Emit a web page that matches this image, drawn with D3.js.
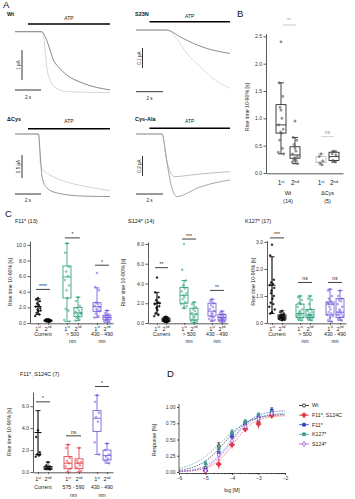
<!DOCTYPE html>
<html><head><meta charset="utf-8">
<script src="https://cdn.jsdelivr.net/npm/d3@7"></script>
<style>
body{margin:0;background:#fff;}
svg text{font-family:"Liberation Sans",Arial,Helvetica,sans-serif;}
</style></head>
<body>
<svg id="chart" width="355" height="499"></svg>
<script>
// ---------------- Panel A: current traces (time in s, current in µA) ----------------
const atpOnset = 1.0;
const wtDarkT  = [0, 2.0, 2.44, 2.69, 2.95, 3.33, 3.98, 5.25, 7.31];
const wtDarkI  = [0, 0, -0.28, -0.61, -0.94, -1.17, -1.44, -1.72, -1.94];
const wtLightT = [0, 2.13, 2.31, 2.44, 2.69, 3.08, 3.98, 7.31];
const wtLightI = [0, 0, -0.61, -1.17, -1.61, -1.85, -2.0, -2.03];
const s23DarkT  = [0, 2.27, 3.26, 4.25, 5.24, 6.96];
const s23DarkI  = [0, 0, -0.034, -0.067, -0.092, -0.117];
const s23LightT = [0, 2.27, 3.01, 3.76, 4.74, 5.7, 6.96];
const s23LightI = [0, 0, -0.042, -0.117, -0.183, -0.242, -0.292];
const dcDarkT  = [0, 1.81, 1.92, 2.08, 2.44, 3.21, 5.23, 7.31];
const dcDarkI  = [0, 0, -0.35, -0.93, -1.17, -1.28, -1.35, -1.36];
const dcLightT = [0, 1.81, 1.95, 2.15, 2.69, 3.98, 5.77, 7.31];
const dcLightI = [0, 0, -0.63, -0.78, -0.89, -1.04, -1.16, -1.23];
const caLightT = [0, 1.93, 2.27, 2.52, 2.89, 3.48, 4.74, 6.96];
const caLightI = [0, 0, -0.26, -0.377, -0.427, -0.42, -0.40, -0.377];
const caDarkT  = [0, 1.93, 2.27, 2.52, 2.76, 3.01, 3.5, 4.5, 5.7, 6.96];
const caDarkI  = [0, 0, -0.26, -0.46, -0.577, -0.627, -0.61, -0.543, -0.493, -0.46];

// ---------------- Panel B: rise time 10-90% [s] ----------------
const bGroups = ['Wt', 'ΔCys'];
const bN = ['(14)', '(5)'];
const bPts = [
  [2.4, 1.65, 1.4, 1.2, 1.0, 0.88, 0.8, 0.75, 0.73, 0.6, 0.45, 0.38, 0.35, 1.15],
  [0.95, 0.65, 0.6, 0.52, 0.4, 0.35, 0.3, 0.28, 0.26, 0.24, 0.22, 0.2, 0.17, 0.45],
  [0.35, 0.3, 0.22, 0.18, 0.15],
  [0.4, 0.35, 0.33, 0.23, 0.2]
];
const bBox = [[0.35, 0.73, 0.88, 1.25, 1.65], [0.17, 0.27, 0.33, 0.48, 0.65], [0.15, 0.19, 0.2, 0.3, 0.35], [0.2, 0.23, 0.3, 0.38, 0.4]];
const bTicks = [0, 0.5, 1.0, 1.5, 2.0, 2.5];

// ---------------- Panel C: rise time 10-90% [s] per construct ----------------
// group order: Current 1st, Current 2nd, light A 1st, light A 2nd, light B 1st, light B 2nd
const f11Pts = [
  [3.2, 3.0, 2.8, 2.5, 2.3, 2.1, 1.9, 1.7, 1.5, 1.3, 1.1, 0.9, 1.6],
  [0.5, 0.45, 0.4, 0.35, 0.3, 0.3, 0.25, 0.25, 0.2, 0.2, 0.15, 0.35, 0.3],
  [10.2, 9.0, 7.2, 6.6, 6.0, 5.5, 4.8, 4.2, 3.2, 1.8, 1.6, 0.4, 0.2],
  [3.3, 2.8, 2.2, 1.9, 1.6, 1.4, 1.3, 1.1, 0.9, 0.7, 0.5, 0.3, 1.2],
  [6.4, 4.6, 4.2, 2.6, 2.4, 2.2, 2.0, 1.8, 1.6, 1.2, 0.9, 0.7, 1.5],
  [1.6, 1.3, 1.1, 1.0, 0.9, 0.8, 0.7, 0.6, 0.5, 0.4, 0.3, 0.2, 0.1]
];
const f11Stats = [[2.1, 1.0], [0.15, 0.22, 0.3, 0.38, 0.5], [0.2, 3.2, 5.9, 7.3, 10.2], [0.3, 0.8, 1.3, 2.0, 3.3], [0.7, 1.5, 2.1, 2.6, 4.5], [0.1, 0.4, 0.7, 1.0, 1.6]];
const f11Sig = [[4.3, '****'], [10.9, '*'], [7.4, '*']];

const s124Pts = [
  [4.6, 3.1, 2.6, 2.3, 2.1, 1.9, 1.7, 1.5, 1.3, 1.0, 0.8, 0.7, 2.0, 1.6],
  [0.65, 0.55, 0.5, 0.45, 0.4, 0.35, 0.3, 0.25, 0.2, 0.15, 0.1, 0.3, 0.2, 0.1],
  [8.0, 5.4, 4.3, 3.8, 3.5, 3.2, 3.0, 2.8, 2.6, 2.4, 2.1, 1.9, 1.7, 1.5],
  [2.1, 1.9, 1.6, 1.4, 1.2, 1.0, 0.9, 0.7, 0.6, 0.4, 0.3, 0.2, 0.1, 0.0],
  [2.4, 2.2, 2.0, 1.8, 1.6, 1.4, 1.2, 1.0, 0.9, 0.7, 0.6, 0.4, 0.3, 0.2],
  [1.2, 1.0, 0.9, 0.8, 0.7, 0.6, 0.55, 0.5, 0.4, 0.35, 0.3, 0.2, 0.15, 0.1]
];
const s124Stats = [[2.0, 1.1], [0.05, 0.15, 0.3, 0.5, 0.65], [1.5, 2.0, 2.8, 3.6, 4.3], [0.0, 0.3, 0.9, 1.5, 2.1], [0.2, 0.7, 1.2, 2.0, 2.4], [0.1, 0.3, 0.55, 0.85, 1.2]];
const s124Sig = [[5.6, '**'], [8.5, '***'], [3.3, '**']];

const k127Pts = [
  [2.9, 2.5, 1.6, 1.5, 1.45, 1.4, 1.3, 1.2, 0.9, 0.75, 0.7, 0.6, 0.5, 0.4, 0.35, 1.0, 1.1],
  [0.45, 0.4, 0.35, 0.3, 0.28, 0.25, 0.22, 0.2, 0.2, 0.18, 0.15, 0.15, 0.12, 0.1, 0.25, 0.3, 0.2],
  [1.0, 0.95, 0.85, 0.75, 0.7, 0.6, 0.5, 0.45, 0.4, 0.35, 0.3, 0.25, 0.2, 0.2, 0.15, 0.1, 0.3],
  [1.0, 0.9, 0.85, 0.7, 0.5, 0.45, 0.4, 0.35, 0.3, 0.3, 0.25, 0.2, 0.2, 0.15, 0.15, 0.1, 0.25],
  [1.25, 1.2, 1.0, 0.9, 0.8, 0.75, 0.7, 0.6, 0.5, 0.4, 0.35, 0.3, 0.25, 0.2, 0.1, 0.05, 0.7],
  [1.2, 1.0, 0.9, 0.85, 0.8, 0.7, 0.6, 0.5, 0.45, 0.4, 0.35, 0.3, 0.25, 0.2, 0.15, 0.1, 0.3]
];
const k127Stats = [[1.4, 1.05], [0.1, 0.15, 0.22, 0.3, 0.45], [0.1, 0.2, 0.35, 0.7, 1.0], [0.1, 0.2, 0.3, 0.5, 1.0], [0.05, 0.3, 0.7, 0.78, 1.25], [0.1, 0.2, 0.4, 0.9, 1.2]];
const k127Sig = [[3.15, '***'], [1.5, 'ns'], [1.5, 'ns']];

const dblPts = [
  [3.8, 3.2, 1.8, 1.6, 1.5, 1.4, 1.6],
  [0.9, 0.6, 0.5, 0.4, 0.35, 0.3, 0.25],
  [2.5, 2.2, 1.3, 1.0, 0.8, 0.5, 0.3],
  [2.2, 1.0, 0.9, 0.8, 0.6, 0.4, 0.1],
  [7.0, 6.4, 5.4, 5.0, 4.6, 2.7, 1.6],
  [2.6, 2.0, 1.6, 1.4, 1.2, 1.0, 0.8]
];
const dblStats = [[3.6, 2.0], [0.2, 0.25, 0.35, 0.5, 0.9], [0.0, 0.3, 0.8, 1.4, 2.5], [0.0, 0.3, 0.8, 1.2, 2.2], [1.6, 3.7, 4.9, 5.6, 7.0], [0.8, 1.1, 1.5, 2.0, 2.6]];
const dblSig = [[6.4, '*'], [3.3, 'ns'], [7.8, '*']];

// ---------------- Panel D: concentration-response ----------------
const dLogConc = [-5, -4.5, -4, -3.5, -3, -2.5];
const dNames = ['Wt', 'F11*, S124C', 'F11*', 'K127*', 'S124*'];
const dWt = [0.06, 0.40, 0.58, 0.73, 0.77, 0.90];
const dWtErr = [0.02, 0.05, 0.05, 0.04, 0.04, 0.04];
const dF11S124C = [0.02, 0.12, 0.42, 0.66, 0.74, 0.87];
const dF11S124CErr = [0.01, 0.07, 0.06, 0.05, 0.07, 0.05];
const dF11 = [0.03, 0.30, 0.54, 0.76, 0.84, 0.95];
const dF11Err = [0.02, 0.05, 0.05, 0.03, 0.04, 0.04];
const dK127 = [0.13, 0.36, 0.60, 0.77, 0.88, 0.92];
const dK127Err = [0.04, 0.05, 0.05, 0.04, 0.03, 0.03];
const dS124 = [0.02, 0.26, 0.48, 0.70, 0.82, 0.90];
const dS124Err = [0.02, 0.05, 0.05, 0.04, 0.04, 0.04];
// Hill fit parameters per series
const dTop = [0.89, 0.87, 0.95, 0.92, 0.89];
const dLogEC50 = [-4.3, -3.95, -4.05, -4.4, -4.05];
const dHill = [0.9, 1.1, 1.0, 0.75, 1.1];

// ====================================================================
const svg = d3.select('#chart');
const FF = '"Liberation Sans",Arial,Helvetica,sans-serif';
function T(x, y, s, o = {}) {
  const t = svg.append('text').attr('x', x).attr('y', y).text(s)
    .attr('font-size', o.size || 5).attr('fill', o.fill || '#222')
    .attr('text-anchor', o.anchor || 'middle');
  if (o.bold) t.attr('font-weight', 'bold');
  if (o.rot) t.attr('transform', `rotate(${o.rot},${x},${y})`);
  return t;
}
function ord(x, y, n, suf, size) {
  const t = svg.append('text').attr('x', x).attr('y', y).attr('text-anchor', 'middle')
    .attr('font-size', size).attr('fill', '#222');
  t.append('tspan').text(n);
  t.append('tspan').text(suf).attr('font-size', size * 0.62).attr('dy', -size * 0.38);
}
function L(x1, y1, x2, y2, c, w) {
  return svg.append('line').attr('x1', x1).attr('y1', y1).attr('x2', x2).attr('y2', y2)
    .attr('stroke', c || '#000').attr('stroke-width', w || 0.8);
}
function styleAx(g, fs) {
  g.attr('font-size', fs).attr('font-family', FF);
  g.selectAll('path,line').attr('stroke', '#111').attr('stroke-width', 0.7);
  g.selectAll('text').attr('fill', '#333');
}

// panel letters
T(3, 8, 'A', {size: 9.5, anchor: 'start', fill: '#111'});
T(237, 17, 'B', {size: 9.5, anchor: 'start', fill: '#111'});
T(5, 217, 'C', {size: 9.5, anchor: 'start', fill: '#111'});
T(167, 377, 'D', {size: 9.5, anchor: 'start', fill: '#111'});

// ---------- Panel A ----------
const tracePanels = [
  {name: 'Wt', nx: 7, ny: 16, x0: 15, y0: 31.7, pxs: 13, pxA: 30, tEnd: 7.31, atpY: 24, atpTy: 19.8,
    sets: [[wtLightT, wtLightI, '#d0d0d0'], [wtDarkT, wtDarkI, '#7b7b7b']], sbA: 1, sbTxt: '1 µA', sbX: 22, sbY: 50, tbY: 90, tTy: 98.5},
  {name: 'S23N', nx: 135, ny: 16, x0: 136, y0: 30, pxs: 13.5, pxA: 200, tEnd: 6.96, atpY: 21.7, atpTy: 17.7,
    sets: [[s23LightT, s23LightI, '#d6d6d6'], [s23DarkT, s23DarkI, '#808080']], sbA: 0.1, sbTxt: '0.1 µA', sbX: 142.5, sbY: 48, tbY: 91.7, tTy: 100},
  {name: 'ΔCys', nx: 7, ny: 120.5, x0: 15, y0: 134, pxs: 13, pxA: 46, tEnd: 7.31, atpY: 128.7, atpTy: 122.5,
    sets: [[dcLightT, dcLightI, '#cdcdcd'], [dcDarkT, dcDarkI, '#8a8a8a']], sbA: 0.5, sbTxt: '0.5 µA', sbX: 22, sbY: 155, tbY: 194, tTy: 201.5},
  {name: 'Cys-Ala', nx: 135, ny: 120.5, x0: 136, y0: 134, pxs: 13.5, pxA: 100, tEnd: 6.96, atpY: 128.3, atpTy: 122.5,
    sets: [[caLightT, caLightI, '#b8b8b8'], [caDarkT, caDarkI, '#9c9c9c']], sbA: 0.2, sbTxt: '0.2 µA', sbX: 142.5, sbY: 156, tbY: 194, tTy: 201.5}
];
tracePanels.forEach(p => {
  const x = d3.scaleLinear().domain([0, p.tEnd]).range([p.x0, p.x0 + p.tEnd * p.pxs]);
  const y = d3.scaleLinear().domain([0, -1]).range([p.y0, p.y0 + p.pxA]);
  T(p.nx, p.ny, p.name, {size: 5.5, bold: true, anchor: 'start', fill: '#111'});
  L(x(atpOnset), p.atpY, x(p.tEnd), p.atpY, '#000', 1.4);
  T((x(atpOnset) + x(p.tEnd)) / 2, p.atpTy, 'ATP', {size: 5});
  const ln = d3.line().x(d => x(d[0])).y(d => y(d[1])).curve(d3.curveMonotoneX);
  p.sets.forEach(([ts, is, c]) => {
    svg.append('path').datum(ts.map((t, i) => [t, is[i]])).attr('d', ln)
      .attr('fill', 'none').attr('stroke', c).attr('stroke-width', 0.9);
  });
  const h = y(-p.sbA) - y(0);
  L(p.sbX, p.sbY, p.sbX, p.sbY + h, '#000', 0.8);
  T(p.sbX - 1.8, p.sbY + h / 2, p.sbTxt, {size: 4.6, rot: -90});
  L(x(0), p.tbY, x(2), p.tbY, '#000', 0.8);
  T(x(1), p.tTy, '2 s', {size: 4.6});
});

// ---------- shared drawing helpers ----------
function drawBox(cx, y, st, color, w) {
  const [lo, q1, md, q3, hi] = st;
  L(cx, y(hi), cx, y(q3), color, 0.8);
  L(cx, y(q1), cx, y(lo), color, 0.8);
  L(cx - w * 0.3, y(hi), cx + w * 0.3, y(hi), color, 0.8);
  L(cx - w * 0.3, y(lo), cx + w * 0.3, y(lo), color, 0.8);
  svg.append('rect').attr('x', cx - w / 2).attr('y', y(q3)).attr('width', w).attr('height', Math.max(0.5, y(q1) - y(q3)))
    .attr('fill', 'none').attr('stroke', color).attr('stroke-width', 0.8);
  L(cx - w / 2, y(md), cx + w / 2, y(md), color, 0.8);
}
function drawErr(cx, y, mean, sd, color) {
  L(cx, y(mean + sd), cx, y(Math.max(0, mean - sd)), color, 1.1);
  L(cx - 2.5, y(mean + sd), cx + 2.5, y(mean + sd), color, 0.9);
  L(cx - 2.5, y(Math.max(0, mean - sd)), cx + 2.5, y(Math.max(0, mean - sd)), color, 0.9);
  L(cx - 3.5, y(mean), cx + 3.5, y(mean), color, 1);
}
const jit = [0, -2, 2, -1, 1, -2.5, 2.5, -0.5, 0.5, -1.5, 1.5, -3, 3, 0, -2, 2, -1];
function drawPts(cx, y, pts, color, r, op) {
  svg.append('g').selectAll('circle').data(pts).join('circle')
    .attr('cx', (d, i) => cx + jit[i % jit.length] * 0.9).attr('cy', d => y(d)).attr('r', r || 1.0)
    .attr('fill', color).attr('fill-opacity', op == null ? 0.3 : op).attr('stroke', color).attr('stroke-width', 0.45);
}

// ---------- Panel B ----------
{
  const y = d3.scaleLinear().domain([0, 2.55]).range([173, 33.6]);
  const keys = ['wt1', 'wt2', 'dc1', 'dc2'];
  const x = d3.scaleOrdinal(keys, [281, 295, 321, 334]);
  const ya = svg.append('g').attr('transform', 'translate(266,0)')
    .call(d3.axisLeft(y).tickValues(bTicks).tickFormat(d3.format('.1f')).tickSize(2.5).tickPadding(1.5).tickSizeOuter(0));
  styleAx(ya, 5);
  const xa = svg.append('g').attr('transform', 'translate(0,173.3)')
    .call(d3.axisBottom(d3.scaleLinear().domain([0, 1]).range([266, 343])).tickValues([]).tickSizeOuter(0));
  styleAx(xa, 5);
  T(248.5, 107, 'Rise time 10-90% [s]', {size: 5.2, rot: -90});
  const boxCol = ['#111', '#111', '#bbb', '#111'];
  keys.forEach((k, i) => {
    drawBox(x(k), y, bBox[i], boxCol[i], 10);
    drawPts(x(k), y, bPts[i], '#555', 1.1, 0.5);
  });
  keys.forEach((k, i) => ord(x(k), 185, i % 2 ? '2' : '1', i % 2 ? 'nd' : 'st', 6.5));
  bGroups.forEach((g, i) => {
    const cx = (x(keys[2 * i]) + x(keys[2 * i + 1])) / 2;
    T(cx, 195, g, {size: 5.5});
    T(cx, 203, bN[i], {size: 5.5});
  });
  L(283, 25, 296, 25, '#bbb', 0.8); T(289, 21.5, '**', {size: 5, fill: '#999'});
  L(321, 136.5, 334, 136.5, '#ccc', 0.8); T(327.5, 133.8, 'ns', {size: 5, fill: '#888'});
}

// ---------- Panel C ----------
const green = '#1f9a77', purple = '#6b4fd8', red = '#e2343e';
const cPanels = [
  {title: 'F11* (13)', tx: 15, ty: 222.5, axisX: 30, y0: 323, yTop: 241, yMax: 10.5, ticks: [0, 2, 4, 6, 8, 10],
    pos: [38, 48, 67, 78, 97, 107], xEnd: 113, labX: 12, pts: f11Pts, st: f11Stats, sig: f11Sig,
    cats: ['Current', '> 500', '430 - 490'], colors: ['#000', '#000', green, green, purple, purple], off: [7.5, 13, 20]},
  {title: 'S124* (14)', tx: 128, ty: 222.5, axisX: 148, y0: 323, yTop: 242, yMax: 8.2, ticks: [0, 2, 4, 6, 8],
    pos: [157, 166, 184, 194, 212, 222], xEnd: 228, labX: 125, pts: s124Pts, st: s124Stats, sig: s124Sig,
    cats: ['Current', '> 500', '430 - 490'], colors: ['#000', '#000', green, green, purple, purple], off: [7.5, 13, 20]},
  {title: 'K127* (17)', tx: 245, ty: 222.5, axisX: 267, y0: 323, yTop: 240.6, yMax: 3.05, ticks: [0, 1, 2, 3],
    pos: [272, 282, 300, 310, 330, 340], xEnd: 346, labX: 255.5, pts: k127Pts, st: k127Stats, sig: k127Sig,
    cats: ['Current', '> 500', '430 - 490'], colors: ['#000', '#000', green, green, purple, purple], off: [7.5, 13, 20]},
  {title: 'F11*, S124C (7)', tx: 20, ty: 375.5, axisX: 33, y0: 472, yTop: 392, yMax: 7.3, ticks: [0, 2, 4, 6],
    pos: [38, 48, 68, 79, 97, 107], xEnd: 113, labX: 10.5, pts: dblPts, st: dblStats, sig: dblSig,
    cats: ['Current', '575 - 590', '430 - 490'], colors: ['#000', '#000', red, red, purple, purple], off: [9, 16.5, 25]}
];
const cKeys = ['cur1', 'cur2', 'a1', 'a2', 'b1', 'b2'];
cPanels.forEach(p => {
  const y = d3.scaleLinear().domain([0, p.yMax]).range([p.y0, p.yTop]);
  const x = d3.scaleOrdinal(cKeys, p.pos);
  T(p.tx, p.ty, p.title, {size: 5.5, anchor: 'start', fill: '#111'});
  const ya = svg.append('g').attr('transform', `translate(${p.axisX},0)`)
    .call(d3.axisLeft(y).tickValues(p.ticks).tickFormat(d3.format('.1f')).tickSize(2.5).tickPadding(1.5).tickSizeOuter(0));
  styleAx(ya, 5);
  const xa = svg.append('g').attr('transform', `translate(0,${p.y0 + 0.3})`)
    .call(d3.axisBottom(d3.scaleLinear().domain([p.axisX, p.xEnd]).range([p.axisX, p.xEnd])).tickValues(p.pos).tickFormat('').tickSize(1.5).tickSizeOuter(0));
  styleAx(xa, 5);
  T(p.labX, (p.y0 + p.yTop) / 2, 'Rise time 10-90% [s]', {size: 5.2, rot: -90});
  cKeys.forEach((k, i) => {
    const c = p.colors[i];
    if (i === 0) drawErr(x(k), y, p.st[i][0], p.st[i][1], c);
    else drawBox(x(k), y, p.st[i], c, 8);
    drawPts(x(k), y, p.pts[i], c, 0.95, i < 2 ? 0.8 : 0.25);
  });
  cKeys.forEach((k, i) => ord(x(k), p.y0 + p.off[0], i % 2 ? '2' : '1', i % 2 ? 'nd' : 'st', 5.5));
  p.cats.forEach((c, j) => {
    const cx = (x(cKeys[2 * j]) + x(cKeys[2 * j + 1])) / 2;
    T(cx, p.y0 + p.off[1], c, {size: 5.2});
    if (j > 0) T(cx, p.y0 + p.off[2], 'nm', {size: 5.2});
  });
  p.sig.forEach(([v, s], j) => {
    const x1 = x(cKeys[2 * j]) - 2, x2 = x(cKeys[2 * j + 1]) + 2;
    L(x1, y(v), x2, y(v), '#111', 0.8);
    T((x1 + x2) / 2, y(v) - (s === 'ns' ? 2 : 1.4), s, {size: 5});
  });
});

// ---------- Panel D ----------
{
  const xD = d3.scaleLinear().domain([-6, -2]).range([179, 285]);
  const yD = d3.scaleLinear().domain([0, 1]).range([472, 407]);
  const ya = svg.append('g').attr('transform', 'translate(179,0)')
    .call(d3.axisLeft(yD).tickValues([0, 0.25, 0.5, 0.75, 1]).tickFormat(d3.format('.2f')).tickSize(2).tickPadding(1.5).tickSizeOuter(0));
  styleAx(ya, 5);
  ya.select('.domain').attr('d', 'M0,473V404');
  const xa = svg.append('g').attr('transform', 'translate(0,473)')
    .call(d3.axisBottom(xD).tickValues([-6, -5, -4, -3, -2]).tickFormat(d3.format('d')).tickSize(2).tickPadding(1.5).tickSizeOuter(0));
  styleAx(xa, 5);
  const minors = [];
  for (let n = -6; n < -2; n++) for (let k = 2; k <= 9; k++) minors.push(n + Math.log10(k));
  const ma = svg.append('g').attr('transform', 'translate(0,473)')
    .call(d3.axisBottom(xD).tickValues(minors).tickFormat('').tickSize(1.1).tickSizeOuter(0));
  styleAx(ma, 5); ma.select('.domain').remove();
  T(232, 492, 'log [M]', {size: 5.2});
  T(155.5, 440, 'Response [%]', {size: 5.2, rot: -90});

  const series = [dWt, dF11S124C, dF11, dK127, dS124];
  const errs = [dWtErr, dF11S124CErr, dF11Err, dK127Err, dS124Err];
  const cols = ['#111', '#e2343e', '#2b3fc4', '#3a9c98', '#a04cd0'];
  const syms = [d3.symbolCircle, d3.symbolCross, d3.symbolSquare, d3.symbolSquare, d3.symbolDiamond];
  const fills = ['#fff', '#e2343e', '#2b3fc4', '#3a9c98', '#fff'];
  const fitX = d3.range(-6, -1.999, 0.05);
  series.forEach((s, i) => {
    const fit = fitX.map(v => [v, dTop[i] / (1 + Math.pow(10, (dLogEC50[i] - v) * dHill[i]))]);
    svg.append('path').datum(fit).attr('d', d3.line().x(d => xD(d[0])).y(d => yD(d[1])))
      .attr('fill', 'none').attr('stroke', cols[i]).attr('stroke-width', 0.6).attr('stroke-dasharray', '1.6,1');
  });
  series.forEach((s, i) => {
    const g = svg.append('g');
    s.forEach((v, j) => {
      const cx = xD(dLogConc[j]);
      g.append('line').attr('x1', cx).attr('x2', cx).attr('y1', yD(v + errs[i][j])).attr('y2', yD(Math.max(0, v - errs[i][j])))
        .attr('stroke', cols[i]).attr('stroke-width', 0.7);
      g.append('line').attr('x1', cx - 1.3).attr('x2', cx + 1.3).attr('y1', yD(v + errs[i][j])).attr('y2', yD(v + errs[i][j]))
        .attr('stroke', cols[i]).attr('stroke-width', 0.7);
    });
    g.selectAll('path.m').data(s).join('path').attr('class', 'm')
      .attr('transform', (v, j) => `translate(${xD(dLogConc[j])},${yD(v)})`)
      .attr('d', d3.symbol(syms[i], i === 1 ? 11 : 7))
      .attr('fill', fills[i]).attr('stroke', cols[i]).attr('stroke-width', 0.8);
  });
  // legend
  dNames.forEach((n, i) => {
    const ly = 405.5 + i * 9.6;
    L(299, ly, 309, ly, cols[i], 0.8);
    svg.append('path').attr('transform', `translate(304,${ly})`).attr('d', d3.symbol(syms[i], i === 1 ? 11 : 8))
      .attr('fill', fills[i]).attr('stroke', cols[i]).attr('stroke-width', 0.8);
    T(312, ly + 1.8, n, {size: 5.3, anchor: 'start'});
  });
}
</script>
</body></html>
